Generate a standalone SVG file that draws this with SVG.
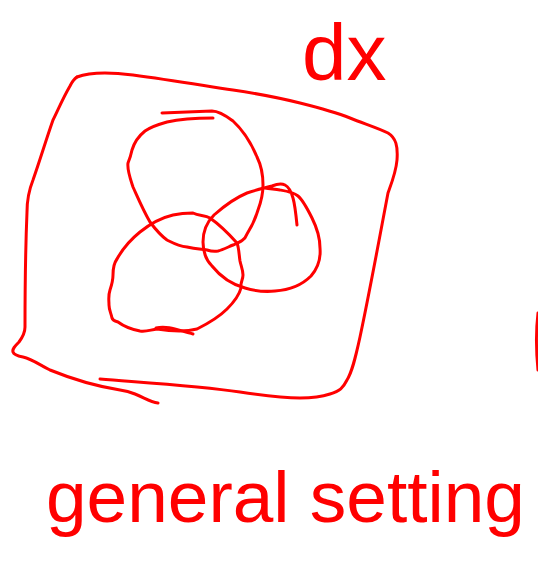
<svg xmlns="http://www.w3.org/2000/svg" width="538" height="578" viewBox="0 0 538 578">
<style>
.s{fill:none;stroke:#ff0000;stroke-width:3;stroke-linecap:round;stroke-linejoin:round}
.t{fill:#ff0000;font-family:"Liberation Sans","DejaVu Sans",sans-serif}
</style>
<rect width="538" height="578" fill="#ffffff"/>
<g id="universe">
<path class="s" d="M77,77 C90,72 110,72 133,75 C170,80 200,85 233,90 C260,94 280,98 300,103 C320,108 335,112 350,118 C365,124 378,128 388,133 C396,138 398,146 397,160 C396,172 392,182 388,193 C380,235 370,290 360,337 C355,360 352,372 347,380 C343,388 340,391 330,394 C318,398 308,398 300,398 C280,398 260,395 240,392 C200,386 150,383 100,379"/>
<path class="s" d="M77,77 C74,79 72,82 70,86 C63,98 58,110 53,120 C46,140 40,160 33,180 C29,190 27,200 27,212 C25,260 25,300 25,327 C25,334 22,338 19,342 C15,346 12,349 13,352 C14,355 18,356 23,357 C32,359 40,365 50,370 C72,379 95,386 120,390 C127,391 130,392 135,394 C145,398 150,402 158,403"/>
</g>
<g id="edge-stroke">
<path class="s" d="M538,313 C536,330 536,350 538,370"/>
</g>
<g id="set-a">
<path class="s" d="M162,113 L212,111 C218,111 225,115 233,121 C245,132 252,145 257,157 C262,167 263,176 263,185 C263,195 261,202 258,210 C255,220 252,226 247,234 C245,240 240,242 233,245 C226,248 222,250 218,251 C213,252 210,251 207,250 C199,249 195,249 187,247 C178,246 173,243 167,240 C160,235 156,230 150,222 C143,210 138,198 133,187 C130,178 127,170 128,163 C130,158 131,155 132,150 C135,140 140,135 145,131 C152,126 160,124 167,122 C180,119 195,118 213,118"/>
</g>
<g id="set-b">
<path class="s" d="M297,225 C296,215 295,205 293,198 C291,191 289,187 285,185 C281,183 277,184 272,186 C265,188 255,190 247,193 C235,198 223,207 214,215 C206,223 203,232 203,242 C203,252 206,260 212,266 C220,276 230,284 245,288 C255,291 265,292 275,291 C290,290 303,284 311,276 C318,268 321,260 320,248 C320,238 317,228 312,218 C307,208 303,200 298,196 C293,192 286,191 280,190 C275,189 270,189 265,188"/>
</g>
<g id="set-c">
<path class="s" d="M237,243 C239,248 239,255 240,261 C241,266 243,270 243,275 C243,280 240,283 241,288 C239,296 234,302 227,309 C218,318 207,324 197,329 C185,332 170,331 157,329 C150,330 146,332 140,331 C130,329 122,325 118,322 C115,321 113,321 112,318 C111,313 109,310 109,305 C109,300 108,296 110,290 C112,284 113,280 113,275 C113,268 114,263 117,259 C122,250 130,240 140,232 C150,224 160,218 173,215 C182,213 188,213 193,213 C199,216 205,215 210,218 C220,225 228,233 237,243"/>
<path class="s" d="M156,328 C168,325 180,331 193,334"/>
</g>
<g id="label-dx">
<text class="t" x="302" y="80" font-size="80">dx</text>
</g>
<g id="label-general-setting">
<text class="t" x="46" y="522" font-size="73">general setting</text>
</g>
</svg>
